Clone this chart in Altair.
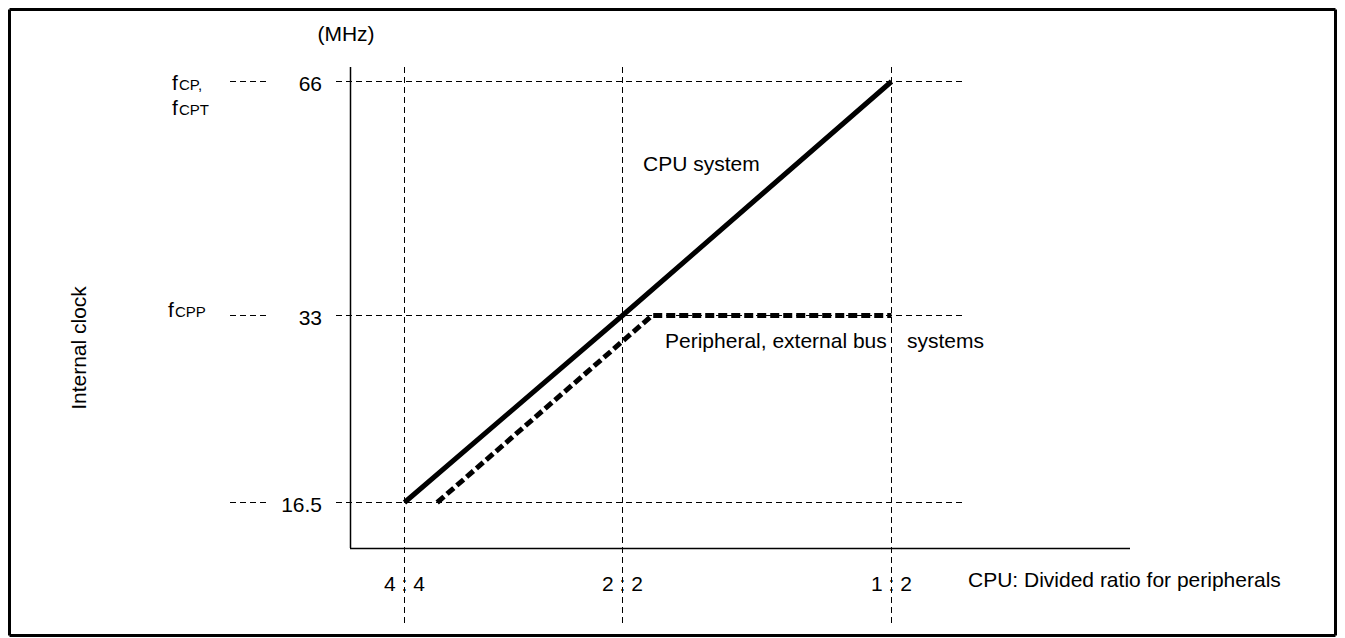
import altair as alt
import pandas as pd

# ---- data ----
ratio_pos = [1, 2, 3]
ratio_labels = ["4 : 4", "2 : 2", "1 : 2"]
freq_values = [16.5, 33, 66]
freq_labels = ["16.5", "33", "66"]

cpu_x = [1, 2, 3]
cpu_y = [16.5, 33, 66]
periph_x = [1.15, 2.11, 3]
periph_y = [16.5, 33, 33]

FONT = "Liberation Sans"
FS = 21
W, H = 780, 481

xs = alt.Scale(domain=[1, 2, 3], range=[54.5, 272.5, 541.5], nice=False, zero=False)
ys = alt.Scale(domain=[16.5, 33, 66], range=[435.5, 248.5, 14.5], nice=False, zero=False)

ratio_df = pd.DataFrame({"pos": ratio_pos, "label": ratio_labels})
freq_df = pd.DataFrame({"f": freq_values, "label": freq_labels})
cpu_df = pd.DataFrame({"x": cpu_x, "y": cpu_y})
per_df = pd.DataFrame({"x": periph_x, "y": periph_y})
one = pd.DataFrame({"a": [0]})

grid_style = dict(color="black", strokeWidth=1, strokeDash=[6, 4])

# vertical dashed guides
vgrid = alt.Chart(ratio_df).mark_rule(**grid_style).encode(
    x=alt.X("pos:Q", scale=xs, axis=None),
    y=alt.value(0), y2=alt.value(558),
)
# horizontal dashed guides (right part and short left part)
hgrid = alt.Chart(freq_df).mark_rule(**grid_style).encode(
    y=alt.Y("f:Q", scale=ys, axis=None),
    x=alt.value(-14), x2=alt.value(615),
)
hgrid_left = alt.Chart(freq_df).mark_rule(**grid_style).encode(
    y=alt.Y("f:Q", scale=ys, axis=None),
    x=alt.value(-120), x2=alt.value(-80),
)

# axis lines
yaxis = alt.Chart(one).mark_rule(color="black", strokeWidth=1.5).encode(
    x=alt.value(0.5), y=alt.value(0), y2=alt.value(H))
xaxis = alt.Chart(one).mark_rule(color="black", strokeWidth=1.5).encode(
    x=alt.value(0), x2=alt.value(W), y=alt.value(H + 0.5))

# data lines
cpu_line = alt.Chart(cpu_df).mark_line(color="black", strokeWidth=5).encode(
    x=alt.X("x:Q", scale=xs, axis=None),
    y=alt.Y("y:Q", scale=ys, axis=None),
)
per_line = alt.Chart(per_df).mark_line(color="black", strokeWidth=5,
                                       strokeDash=[9, 4]).encode(
    x=alt.X("x:Q", scale=xs, axis=None),
    y=alt.Y("y:Q", scale=ys, axis=None),
)

# tick labels
ylab = alt.Chart(freq_df).mark_text(font=FONT, fontSize=FS, align="right",
                                    baseline="middle", dy=3, color="black").encode(
    y=alt.Y("f:Q", scale=ys, axis=None),
    x=alt.value(-28),
    text="label:N",
)
xlab = alt.Chart(ratio_df).mark_text(font=FONT, fontSize=FS, align="center",
                                     baseline="middle", color="black").encode(
    x=alt.X("pos:Q", scale=xs, axis=None),
    y=alt.value(518),
    text="label:N",
)

def txt(s, x, y, size=FS, align="left", angle=0, baseline="alphabetic"):
    kw = dict(font=FONT, fontSize=size, align=align, baseline=baseline, color="black")
    if angle:
        kw["angle"] = angle
    return alt.Chart(one).mark_text(**kw).encode(
        x=alt.value(x), y=alt.value(y), text=alt.value(s))

texts = [
    txt("(MHz)", -4, -26, align="center"),
    txt("f", -178, 23), txt("CP,", -171, 23, size=15),
    txt("f", -178, 48), txt("CPT", -171, 48, size=15),
    txt("f", -182, 250), txt("CPP", -175, 250, size=15),
    txt("CPU system", 293, 104),
    txt("Peripheral, external bus", 315, 281),
    txt("systems", 557, 281),
    txt("CPU: Divided ratio for peripherals", 618, 520),
    txt("Internal clock", -270, 281, angle=270, align="center", baseline="middle"),
]

# outer frame
fx0, fx1, fy0, fy1 = -340.5, 985.5, -57.5, 568.5
frame = [
    alt.Chart(one).mark_rule(color="black", strokeWidth=3).encode(
        x=alt.value(fx0), x2=alt.value(fx1), y=alt.value(fy0)),
    alt.Chart(one).mark_rule(color="black", strokeWidth=3).encode(
        x=alt.value(fx0), x2=alt.value(fx1), y=alt.value(fy1)),
    alt.Chart(one).mark_rule(color="black", strokeWidth=3).encode(
        x=alt.value(fx0), y=alt.value(fy0), y2=alt.value(fy1)),
    alt.Chart(one).mark_rule(color="black", strokeWidth=3).encode(
        x=alt.value(fx1), y=alt.value(fy0), y2=alt.value(fy1)),
]

chart = alt.layer(
    vgrid, hgrid, hgrid_left, yaxis, xaxis, cpu_line, per_line, ylab, xlab,
    *texts, *frame
).resolve_scale(x="independent", y="independent").properties(
    width=W, height=H,
    padding={"left": 342, "top": 59, "right": 207, "bottom": 89},
    autosize=alt.AutoSizeParams(type="none"),
).configure_view(stroke=None)

chart.save("out.html", embed_options={"renderer": "svg", "actions": False})
